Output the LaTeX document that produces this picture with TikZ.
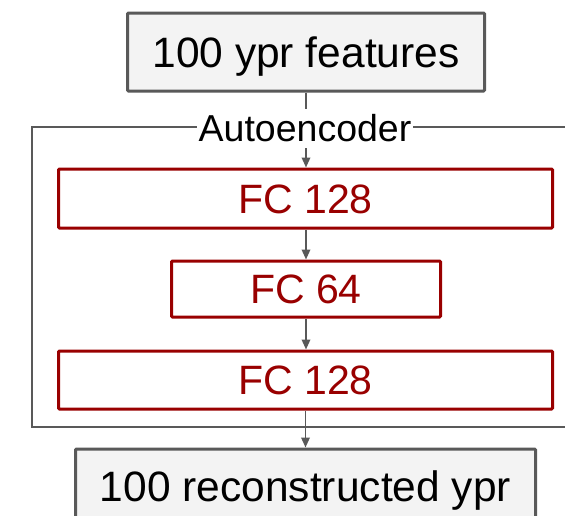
\documentclass[tikz,border=0pt]{standalone}
\usepackage{fontspec}
\setmainfont{Liberation Sans}
\usetikzlibrary{arrows.meta}
\definecolor{boxgray}{HTML}{F3F3F3}
\definecolor{linegray}{HTML}{595959}
\definecolor{fcred}{HTML}{990000}
\tikzset{
  iobox/.style={draw=linegray, fill=boxgray, line width=3pt, rounded corners=1pt,
    font=\fontsize{42.5}{50}\selectfont, text=black, text height=30.6pt, text depth=0pt, inner sep=0pt},
  fcbox/.style={draw=fcred, fill=white, line width=3pt, rounded corners=1pt,
    font=\fontsize{41}{48}\selectfont, text=fcred, text height=29.5pt, text depth=0pt, inner sep=0pt},
  flow/.style={draw=linegray, line width=1.8pt, -{Triangle[length=10pt,width=8.5pt]}},
  framelabel/.style={fill=white, font=\fontsize{37.5}{44}\selectfont, text height=27pt, text depth=0pt,
    inner xsep=2pt, inner ysep=6pt}
}
\begin{document}
\begin{tikzpicture}[x=1pt,y=-1pt]
\clip (0,0) rectangle (565,515);
\fill[white] (0,0) rectangle (565,515);
% frame
\draw[linegray, line width=1.8pt] (32,127) rectangle (620,427);
\node[iobox, minimum width=357pt, minimum height=78pt] (top) at (306,52) {100 ypr features};
\node[fcbox, minimum width=494pt, minimum height=59pt] (fc1) at (305.5,198.5) {FC 128};
\node[fcbox, minimum width=269pt, minimum height=56pt] (fc2) at (306,289) {FC 64};
\node[fcbox, minimum width=494pt, minimum height=58pt] (fc3) at (305.5,380) {FC 128};
\node[iobox, minimum width=460pt, minimum height=74pt] (bot) at (305.5,486) {100 reconstructed ypr};
\draw[flow] (top.south) -- (top.south |- fc1.north);
\node[framelabel] (ae) at (305,128) {Autoencoder};
\draw[flow] (fc2.north |- fc1.south) -- (fc2.north);
\draw[flow] (fc2.south) -- (fc2.south |- fc3.north);
\draw[flow] (fc3.south) -- (fc3.south |- bot.north);
\end{tikzpicture}
\end{document}
